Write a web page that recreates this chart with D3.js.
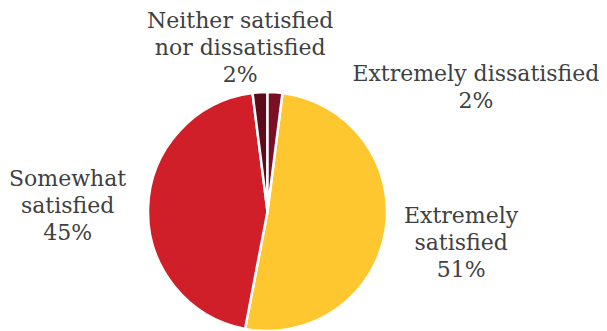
<!DOCTYPE html>
<html>
<head>
<meta charset="utf-8">
<script src="https://cdn.jsdelivr.net/npm/d3@7"></script>
<style>
  html, body { margin: 0; padding: 0; background: #fff; }
  svg { display: block; }
  .label { font-family: "DejaVu Serif", serif; font-size: 22px; fill: #404040; }
</style>
</head>
<body>
<svg id="chart" width="607" height="331"></svg>
<script>
// Satisfaction survey shares, in drawing order (clockwise)
const categories = ["Extremely satisfied", "Somewhat satisfied", "Neither satisfied nor dissatisfied", "Extremely dissatisfied"];
const values = [51, 45, 2, 2];
const labelLines = [
  ["Extremely", "satisfied"],
  ["Somewhat", "satisfied"],
  ["Neither satisfied", "nor dissatisfied"],
  ["Extremely dissatisfied"]
];
const colors = ["#FFC72F", "#D11F29", "#5C0B1A", "#7A0F25"];

const width = 607, height = 331;
const cx = 267.5, cy = 211.5, radius = 119.5;

const svg = d3.select("#chart");
const g = svg.append("g").attr("transform", `translate(${cx},${cy})`);

const total = d3.sum(values);
// first slice starts just after 12 o'clock so the last slice ends at it
const start = 2 * Math.PI * (values[values.length - 1] / total);

const pie = d3.pie()
  .sort(null)
  .value(d => d)
  .startAngle(start)
  .endAngle(start + 2 * Math.PI);

const arcs = pie(values);
const arc = d3.arc().innerRadius(0).outerRadius(radius);

g.selectAll("path.slice")
  .data(arcs)
  .join("path")
  .attr("class", "slice")
  .attr("d", arc)
  .attr("fill", (d, i) => colors[i])
  .attr("stroke", "#fff")
  .attr("stroke-width", 2.5)
  .attr("stroke-linejoin", "round");

// label placement: distance from centre along the slice's mid angle, plus a nudge
const labelRadius = [196, 200, 165, 165];
const labelNudge = [[0, 0], [0, 0], [-17, 0], [198, 40]];
const lineHeight = 27;

arcs.forEach((d, i) => {
  const mid = (d.startAngle + d.endAngle) / 2;
  const x = Math.sin(mid) * labelRadius[i] + labelNudge[i][0];
  const y = -Math.cos(mid) * labelRadius[i] + labelNudge[i][1];
  const lines = labelLines[i].concat([d3.format(".0f")(values[i] / total * 100) + "%"]);
  const t = g.append("text")
    .attr("class", "label")
    .attr("text-anchor", "middle")
    .attr("transform", `translate(${x},${y})`);
  const n = lines.length;
  lines.forEach((s, k) => {
    t.append("tspan")
      .attr("x", 0)
      .attr("y", (k - (n - 1) / 2) * lineHeight + 8)
      .text(s);
  });
});
</script>
</body>
</html>
